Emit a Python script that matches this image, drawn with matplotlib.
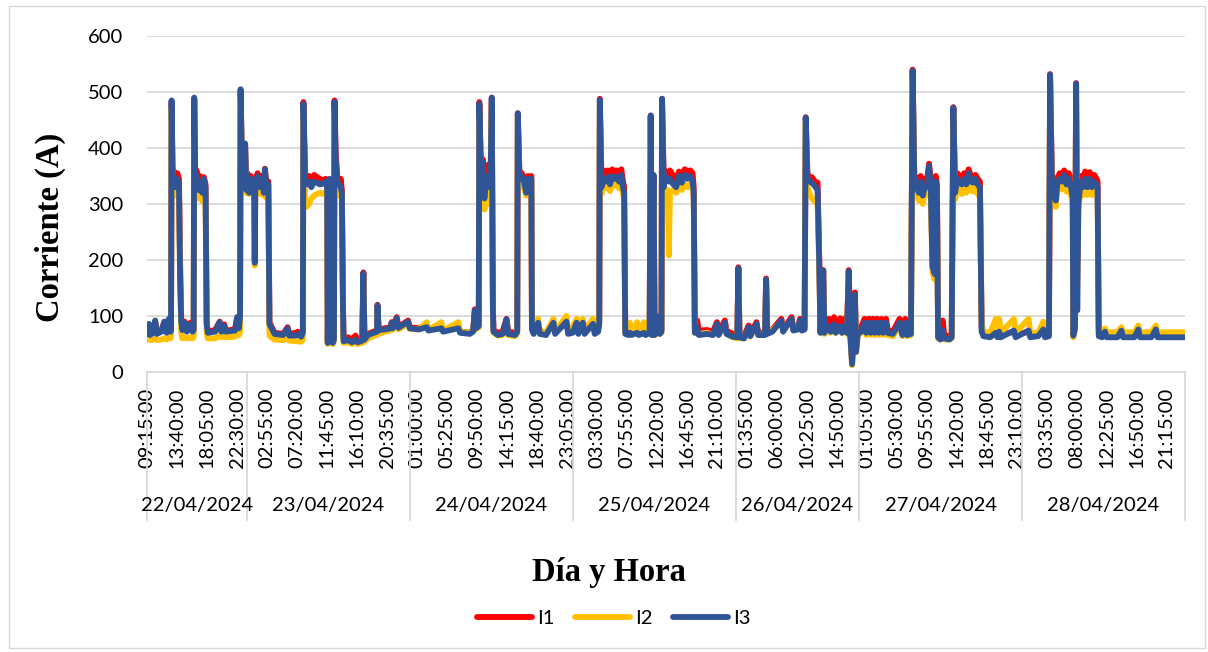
import numpy as np
import matplotlib.pyplot as plt
from matplotlib.patches import Rectangle

plt.rcParams['font.family'] = ['Lato', 'DejaVu Sans']

# categorias: dias y numero de registros (cada 5 min) por dia
dias = ["22/04/2024", "23/04/2024", "24/04/2024", "25/04/2024",
        "26/04/2024", "27/04/2024", "28/04/2024"]
puntos_dia = [177, 288, 288, 288, 218, 288, 288]

# etiquetas de hora (una cada 53 registros)
paso_etiqueta = 53
etiquetas_hora = [
    "09:15:00", "13:40:00", "18:05:00", "22:30:00",
    "02:55:00", "07:20:00", "11:45:00", "16:10:00", "20:35:00",
    "01:00:00", "05:25:00", "09:50:00", "14:15:00", "18:40:00", "23:05:00",
    "03:30:00", "07:55:00", "12:20:00", "16:45:00", "21:10:00",
    "01:35:00", "06:00:00", "10:25:00", "14:50:00",
    "01:05:00", "05:30:00", "09:55:00", "14:20:00", "18:45:00", "23:10:00",
    "03:35:00", "08:00:00", "12:25:00", "16:50:00", "21:15:00",
]

# registros (indice de registro y corriente en A)
t_idx = [
    0, 3, 5, 10, 14, 17, 25, 30, 34, 38,
    41, 42, 43, 45, 47, 50, 53, 56, 58, 60,
    62, 66, 70, 76, 80, 82, 83, 85, 87, 90,
    93, 97, 100, 103, 105, 107, 120, 128, 131, 136,
    139, 155, 159, 162, 164, 165, 168, 171, 173, 175,
    177, 180, 183, 186, 189, 190, 191, 195, 199, 203,
    206, 208, 211, 214, 216, 219, 225, 240, 248, 251,
    262, 266, 272, 275, 276, 279, 282, 286, 290, 295,
    300, 305, 310, 315, 318, 319, 322, 324, 327, 328,
    330, 331, 333, 336, 339, 342, 344, 346, 347, 355,
    362, 368, 372, 380, 382, 384, 390, 400, 406, 407,
    409, 420, 430, 432, 434, 441, 444, 461, 464, 480,
    494, 497, 520, 523, 550, 553, 570, 576, 579, 581,
    586, 587, 590, 593, 596, 599, 602, 605, 607, 609,
    611, 612, 620, 628, 635, 638, 650, 654, 655, 658,
    662, 666, 670, 673, 677, 679, 680, 683, 691, 694,
    705, 718, 721, 741, 744, 752, 759, 762, 770, 773,
    788, 791, 797, 799, 800, 803, 806, 810, 814, 818,
    822, 826, 830, 834, 838, 841, 843, 845, 850, 853,
    856, 866, 869, 878, 881, 888, 890, 892, 895, 897,
    902, 904, 906, 909, 910, 913, 915, 920, 922, 924,
    930, 935, 940, 945, 950, 955, 960, 964, 966, 968,
    972, 975, 990, 1000, 1007, 1010, 1021, 1024, 1035, 1043,
    1045, 1047, 1055, 1063, 1066, 1077, 1080, 1092, 1094, 1096,
    1105, 1121, 1124, 1139, 1142, 1150, 1154, 1157, 1162, 1164,
    1167, 1171, 1175, 1180, 1185, 1188, 1190, 1195, 1197, 1205,
    1208, 1214, 1217, 1225, 1228, 1234, 1237, 1240, 1243, 1246,
    1248, 1251, 1253, 1256, 1262, 1268, 1271, 1276, 1279, 1283,
    1286, 1290, 1293, 1298, 1301, 1306, 1309, 1318, 1330, 1335,
    1340, 1343, 1350, 1353, 1356, 1360, 1364, 1367, 1371, 1374,
    1378, 1382, 1385, 1388, 1392, 1394, 1396, 1398, 1402, 1406,
    1409, 1418, 1422, 1425, 1428, 1432, 1436, 1440, 1444, 1448,
    1452, 1456, 1460, 1464, 1468, 1472, 1475, 1478, 1490, 1500,
    1503, 1506, 1509, 1532, 1535, 1558, 1561, 1575, 1584, 1587,
    1594, 1596, 1599, 1603, 1606, 1609, 1613, 1617, 1621, 1625,
    1629, 1633, 1636, 1637, 1640, 1642, 1644, 1646, 1650, 1654,
    1658, 1662, 1666, 1670, 1674, 1678, 1680, 1682, 1688, 1693,
    1696, 1715, 1722, 1725, 1745, 1752, 1755, 1775, 1783, 1786,
    1834,
]
i1 = [
    70, 85, 68, 72, 90, 70, 75, 88, 72, 92,
    74, 76, 483, 340, 358, 340, 355, 345, 200, 95,
    80, 90, 75, 88, 74, 76, 488, 330, 360, 330,
    350, 330, 348, 335, 90, 72, 75, 90, 75, 85,
    74, 76, 98, 80, 90, 502, 340, 400, 405, 330,
    355, 325, 350, 335, 340, 200, 340, 355, 335, 350,
    325, 363, 330, 340, 90, 82, 70, 68, 80, 68,
    70, 72, 65, 75, 482, 355, 345, 350, 345, 352,
    348, 345, 342, 345, 340, 55, 330, 60, 320, 55,
    60, 485, 395, 345, 330, 345, 325, 120, 60, 62,
    58, 65, 58, 60, 178, 62, 68, 72, 74, 120,
    76, 78, 80, 89, 80, 98, 80, 92, 80, 78,
    85, 76, 82, 74, 82, 72, 70, 75, 112, 80,
    85, 482, 360, 380, 330, 355, 370, 340, 360, 490,
    120, 75, 70, 72, 95, 72, 70, 75, 462, 350,
    355, 345, 325, 350, 345, 350, 80, 72, 85, 72,
    70, 85, 72, 88, 72, 74, 86, 72, 86, 72,
    84, 72, 76, 90, 488, 340, 360, 355, 360, 350,
    362, 355, 360, 352, 362, 340, 330, 78, 72, 70,
    70, 72, 70, 72, 70, 72, 458, 70, 350, 70,
    75, 100, 72, 75, 488, 345, 360, 355, 355, 360,
    350, 345, 358, 350, 362, 358, 360, 355, 330, 78,
    92, 74, 75, 72, 89, 72, 92, 74, 68, 66,
    187, 66, 64, 83, 68, 89, 70, 70, 167, 72,
    76, 95, 76, 98, 78, 80, 95, 78, 80, 455,
    355, 345, 348, 340, 338, 200, 80, 182, 75, 95,
    80, 98, 78, 96, 78, 96, 76, 182, 70, 18,
    60, 142, 40, 75, 80, 95, 75, 95, 75, 95,
    75, 95, 75, 95, 75, 95, 75, 72, 95, 72,
    95, 72, 75, 540, 350, 345, 335, 350, 330, 345,
    340, 372, 345, 200, 180, 350, 335, 75, 62, 92,
    66, 64, 68, 473, 335, 355, 350, 345, 355, 345,
    362, 350, 345, 352, 345, 340, 78, 68, 66, 68,
    66, 70, 66, 72, 66, 72, 66, 66, 72, 66,
    68, 532, 355, 340, 320, 345, 355, 350, 360, 345,
    355, 345, 320, 68, 80, 516, 200, 310, 350, 345,
    358, 340, 357, 340, 352, 345, 340, 72, 68, 72,
    66, 66, 72, 66, 66, 72, 66, 66, 72, 66,
    65,
]
i2 = [
    58, 60, 57, 58, 60, 57, 58, 60, 58, 62,
    60, 62, 470, 320, 330, 315, 325, 318, 180, 70,
    60, 62, 60, 62, 60, 62, 475, 310, 325, 310,
    320, 305, 318, 310, 70, 60, 60, 65, 62, 64,
    62, 63, 70, 66, 72, 490, 320, 390, 395, 320,
    325, 318, 328, 320, 320, 190, 320, 330, 318, 330,
    315, 340, 310, 315, 65, 62, 58, 57, 60, 56,
    55, 55, 54, 58, 470, 305, 295, 300, 310, 315,
    318, 320, 318, 320, 315, 50, 320, 52, 310, 50,
    55, 470, 340, 320, 315, 325, 310, 100, 52, 53,
    50, 52, 50, 52, 172, 54, 60, 64, 66, 115,
    68, 72, 74, 82, 76, 92, 76, 86, 77, 76,
    89, 75, 89, 74, 89, 72, 70, 74, 100, 76,
    80, 470, 340, 350, 290, 320, 300, 310, 330, 478,
    100, 70, 65, 66, 88, 66, 64, 68, 455, 330,
    335, 330, 315, 335, 330, 338, 74, 70, 95, 72,
    70, 95, 72, 100, 74, 80, 95, 74, 95, 74,
    95, 74, 80, 88, 475, 318, 333, 328, 336, 323,
    338, 333, 336, 328, 340, 318, 308, 70, 78, 88,
    70, 89, 70, 89, 70, 72, 450, 66, 340, 66,
    72, 95, 68, 70, 475, 300, 320, 325, 208, 320,
    325, 320, 330, 325, 335, 330, 335, 330, 310, 70,
    75, 68, 70, 66, 82, 68, 84, 68, 62, 60,
    182, 60, 60, 78, 64, 82, 66, 68, 162, 70,
    75, 90, 75, 92, 76, 78, 90, 75, 78, 445,
    330, 318, 310, 305, 300, 180, 70, 178, 68, 80,
    70, 82, 70, 80, 70, 80, 68, 176, 62, 12,
    50, 135, 35, 66, 70, 82, 66, 82, 66, 82,
    66, 82, 66, 82, 66, 82, 66, 64, 82, 64,
    82, 64, 66, 530, 328, 318, 306, 328, 300, 318,
    316, 355, 322, 178, 165, 326, 312, 60, 58, 70,
    58, 58, 60, 465, 308, 330, 322, 318, 330, 320,
    340, 325, 322, 330, 318, 312, 90, 72, 70, 95,
    72, 95, 70, 95, 70, 95, 70, 70, 90, 70,
    72, 525, 332, 316, 295, 325, 332, 326, 338, 322,
    332, 316, 298, 62, 75, 510, 150, 290, 326, 316,
    332, 316, 332, 316, 326, 322, 316, 74, 72, 78,
    71, 71, 80, 71, 71, 83, 71, 71, 83, 71,
    71,
]
i3 = [
    68, 86, 66, 70, 92, 68, 72, 90, 70, 95,
    72, 74, 485, 335, 350, 330, 345, 335, 170, 90,
    75, 88, 72, 85, 72, 75, 490, 340, 350, 325,
    340, 320, 345, 330, 85, 70, 72, 89, 72, 82,
    72, 74, 98, 78, 100, 505, 330, 405, 408, 325,
    350, 320, 345, 330, 335, 195, 335, 350, 330, 345,
    320, 362, 325, 335, 85, 80, 68, 66, 78, 65,
    65, 68, 63, 70, 479, 345, 335, 340, 330, 340,
    338, 335, 336, 340, 335, 52, 345, 55, 330, 52,
    58, 482, 380, 340, 335, 330, 320, 110, 55, 57,
    53, 58, 53, 56, 176, 58, 66, 70, 72, 119,
    75, 76, 78, 88, 78, 96, 79, 90, 78, 76,
    80, 74, 78, 72, 78, 70, 68, 72, 110, 78,
    82, 479, 350, 375, 310, 345, 350, 330, 350, 490,
    110, 72, 66, 68, 94, 68, 66, 72, 462, 345,
    350, 340, 320, 345, 340, 345, 76, 68, 88, 68,
    66, 88, 68, 90, 68, 70, 88, 68, 88, 68,
    86, 68, 72, 85, 486, 330, 345, 340, 348, 335,
    350, 345, 348, 340, 352, 330, 320, 68, 66, 70,
    66, 70, 66, 70, 66, 70, 458, 66, 352, 66,
    72, 98, 68, 72, 488, 330, 350, 345, 340, 345,
    335, 330, 350, 338, 352, 345, 350, 340, 320, 70,
    80, 66, 68, 66, 86, 66, 88, 68, 63, 62,
    185, 62, 60, 80, 64, 86, 66, 66, 165, 68,
    72, 92, 72, 95, 74, 76, 92, 74, 76, 454,
    345, 340, 338, 332, 325, 190, 70, 181, 70, 82,
    72, 85, 70, 82, 70, 82, 70, 180, 60, 14,
    55, 138, 36, 68, 72, 88, 70, 88, 70, 88,
    70, 88, 70, 88, 70, 88, 70, 68, 88, 66,
    88, 66, 68, 538, 340, 330, 320, 340, 315, 330,
    330, 368, 335, 188, 175, 340, 325, 62, 58, 75,
    60, 58, 62, 472, 320, 345, 338, 335, 345, 335,
    355, 340, 338, 345, 335, 330, 72, 64, 62, 70,
    62, 72, 62, 74, 62, 74, 62, 64, 76, 62,
    64, 531, 345, 330, 306, 338, 345, 340, 352, 335,
    345, 330, 310, 65, 78, 515, 110, 300, 340, 330,
    345, 330, 345, 330, 340, 335, 330, 64, 62, 72,
    62, 62, 74, 62, 62, 76, 62, 62, 76, 62,
    62,
]
assert len(t_idx) == len(i1) == len(i2) == len(i3)

W, H = 1208, 652
fig = plt.figure(figsize=(W / 100, H / 100), dpi=100)
ax = fig.add_axes([147 / W, 1 - 372 / H, 1038 / W, 336 / H])

n_total = sum(puntos_dia)
series = [(i1, "#FF0000", "I1"), (i2, "#FFC000", "I2"), (i3, "#2F5597", "I3")]
for vals, col, nombre in series:
    ax.plot(t_idx, vals, color=col, lw=4.2, solid_joinstyle="round",
            solid_capstyle="round", label=nombre)

ax.set_xlim(-0.5, n_total - 0.5)
ax.set_ylim(0, 600)
ax.set_yticks(range(0, 601, 100))
ax.grid(axis="y", color="#D9D9D9", lw=1.3)
ax.set_axisbelow(True)
for s in ["top", "right", "left"]:
    ax.spines[s].set_visible(False)
ax.spines["bottom"].set_color("#D9D9D9")
ax.spines["bottom"].set_linewidth(1.3)
ax.tick_params(axis="y", length=0, pad=17, labelsize=14.5)

ticks = np.arange(len(etiquetas_hora)) * paso_etiqueta
ax.set_xticks(ticks)
ax.set_xticklabels(etiquetas_hora, rotation=90)
ax.tick_params(axis="x", length=0, pad=11.5, labelsize=14.5)

# segundo nivel de categorias: dias
trans = ax.get_xaxis_transform()
limites = np.cumsum([0] + puntos_dia) - 0.5
for b in limites:
    ax.plot([b, b], [0, -0.4405], transform=trans, clip_on=False,
            color="#D9D9D9", lw=1.3)
for k, dia in enumerate(dias):
    centro = (limites[k] + limites[k + 1]) / 2
    ax.text(centro, -0.396, dia, transform=trans, ha="center", va="center",
            fontsize=14.5)

fig.text(50 / W, 1 - 227 / H, "Corriente (A)", rotation=90, ha="center",
         va="center", family="Liberation Serif", weight="bold", fontsize=23.5)
fig.text(609 / W, 1 - 572 / H, "Día y Hora", ha="center", va="center",
         family="Liberation Serif", weight="bold", fontsize=23.5)

fig.legend(loc="center", bbox_to_anchor=(614 / W, 1 - 618 / H), ncol=3,
           frameon=False, handlelength=2.75, handletextpad=0.25,
           columnspacing=1.0, fontsize=14.5)

fig.patches.append(Rectangle((9 / W, 4 / H), 1196 / W, 642 / H,
                             transform=fig.transFigure, fill=False,
                             edgecolor="#D9D9D9", lw=1))

fig.savefig("out.png", dpi=100)
